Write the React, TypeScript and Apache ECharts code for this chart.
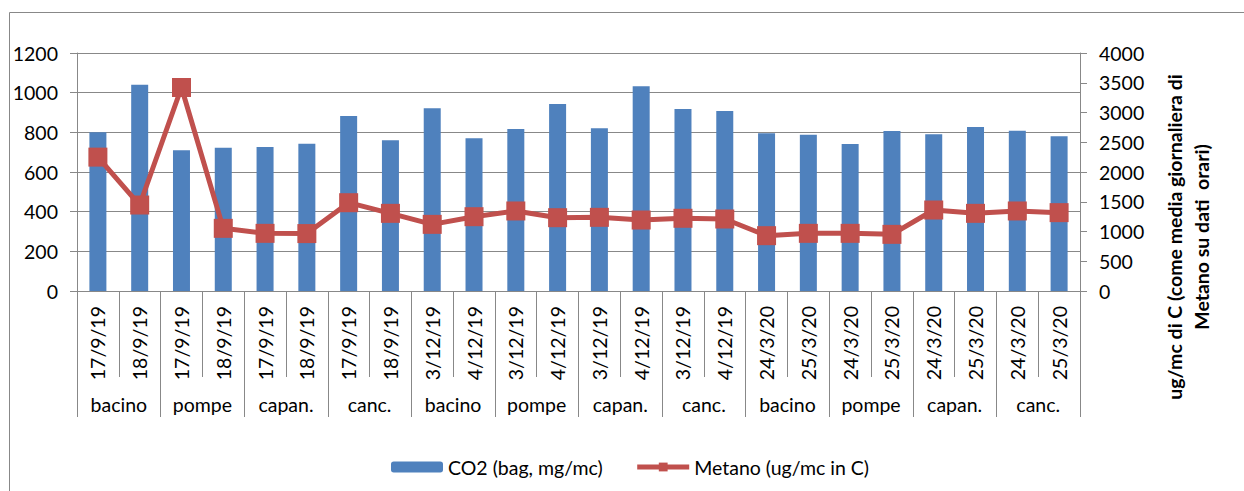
import React, { useEffect, useRef } from "react";
import * as echarts from "echarts";

const dates = [
  "17/9/19", "18/9/19", "17/9/19", "18/9/19", "17/9/19", "18/9/19", "17/9/19", "18/9/19",
  "3/12/19", "4/12/19", "3/12/19", "4/12/19", "3/12/19", "4/12/19", "3/12/19", "4/12/19",
  "24/3/20", "25/3/20", "24/3/20", "25/3/20", "24/3/20", "25/3/20", "24/3/20", "25/3/20",
];
const groups = [
  "bacino", "pompe", "capan.", "canc.",
  "bacino", "pompe", "capan.", "canc.",
  "bacino", "pompe", "capan.", "canc.",
];
const co2 = [
  800, 1040, 710, 722, 726, 743, 882, 760,
  921, 770, 817, 943, 820, 1032, 918, 908,
  795, 788, 741, 807, 790, 827, 808, 780,
];
const metano = [
  2250, 1445, 3420, 1053, 969, 965, 1484, 1305,
  1120, 1249, 1345, 1232, 1238, 1193, 1222, 1210,
  930, 969, 969, 952, 1361, 1305, 1345, 1317,
];
const leftTicks = { min: 0, max: 1200, interval: 200 };
const rightTicks = { min: 0, max: 4000, interval: 500 };
const co2Name = "CO2 (bag, mg/mc)";
const metanoName = "Metano (ug/mc in C)";
const rightTitle = "ug/mc di C (come media giornaliera di\nMetano su dati  orari)";

const FONT = "Lato";
const FS = 19.5;
const GRAY = "#888888";
const plain = (v: number) => String(v);

export default function App() {
  const ref = useRef<HTMLDivElement>(null);
  useEffect(() => {
    if (!ref.current) return;
    const chart = echarts.init(ref.current, null, { renderer: "svg" });
    chart.setOption({
      animation: false,
      backgroundColor: "#ffffff",
      textStyle: { fontFamily: FONT, color: "#000" },
      grid: { left: 77, right: 164, top: 53, bottom: 200, containLabel: false },
      legend: {
        left: 386,
        top: 452,
        itemWidth: 52,
        itemHeight: 11,
        itemGap: 32,
        textStyle: { fontFamily: FONT, fontSize: FS, color: "#000" },
        data: [
          { name: co2Name },
          { name: metanoName, lineStyle: { width: 5 } },
        ],
      },
      xAxis: [
        {
          type: "category",
          data: dates,
          gridIndex: 0,
          position: "bottom",
          axisLine: { show: true, lineStyle: { color: GRAY, width: 1 } },
          axisTick: { show: true, interval: 0, length: 86, lineStyle: { color: GRAY } },
          axisLabel: {
            interval: 0,
            rotate: 90,
            margin: 15,
            fontFamily: FONT,
            fontSize: FS,
            color: "#000",
          },
        },
        {
          type: "category",
          data: groups,
          gridIndex: 0,
          position: "bottom",
          axisLine: { show: false },
          axisTick: { show: true, interval: 0, length: 126, lineStyle: { color: GRAY } },
          axisLabel: {
            interval: 0,
            margin: 103,
            fontFamily: FONT,
            fontSize: FS,
            color: "#000",
          },
        },
      ],
      yAxis: [
        {
          type: "value",
          position: "left",
          min: leftTicks.min,
          max: leftTicks.max,
          interval: leftTicks.interval,
          axisLine: { show: true, lineStyle: { color: GRAY } },
          axisTick: { show: true, length: 7, lineStyle: { color: GRAY } },
          axisLabel: { margin: 19, fontFamily: FONT, fontSize: FS, color: "#000", formatter: plain },
          splitLine: { show: true, lineStyle: { color: GRAY, width: 1 } },
        },
        {
          type: "value",
          position: "right",
          min: rightTicks.min,
          max: rightTicks.max,
          interval: rightTicks.interval,
          axisLine: { show: true, lineStyle: { color: GRAY } },
          axisTick: { show: true, length: 7, lineStyle: { color: GRAY } },
          axisLabel: { margin: 19, fontFamily: FONT, fontSize: FS, color: "#000", formatter: plain },
          splitLine: { show: false },
        },
      ],
      series: [
        {
          name: co2Name,
          type: "bar",
          xAxisIndex: 0,
          yAxisIndex: 0,
          data: co2,
          barWidth: 17,
          itemStyle: { color: "#4F81BD" },
        },
        {
          name: metanoName,
          type: "line",
          xAxisIndex: 0,
          yAxisIndex: 1,
          data: metano,
          symbol: "rect",
          symbolSize: 19,
          lineStyle: { color: "#C0504D", width: 5 },
          itemStyle: { color: "#C0504D" },
          z: 5,
        },
      ],
      graphic: [
        {
          type: "rect",
          shape: { x: 9.5, y: 12.5, width: 1240, height: 500 },
          style: { fill: "none", stroke: GRAY, lineWidth: 1 },
          silent: true,
          z: -10,
        },
        {
          type: "text",
          x: 1188,
          y: 237,
          rotation: Math.PI / 2,
          style: {
            text: rightTitle,
            fontFamily: FONT,
            fontWeight: "bold",
            fontSize: FS,
            lineHeight: 27,
            fill: "#000",
            align: "center",
            verticalAlign: "middle",
          },
        },
      ],
    });
    return () => chart.dispose();
  }, []);
  return (
    <div
      ref={ref}
      style={{ position: "fixed", left: 0, top: 0, width: 1244, height: 491 }}
    />
  );
}
